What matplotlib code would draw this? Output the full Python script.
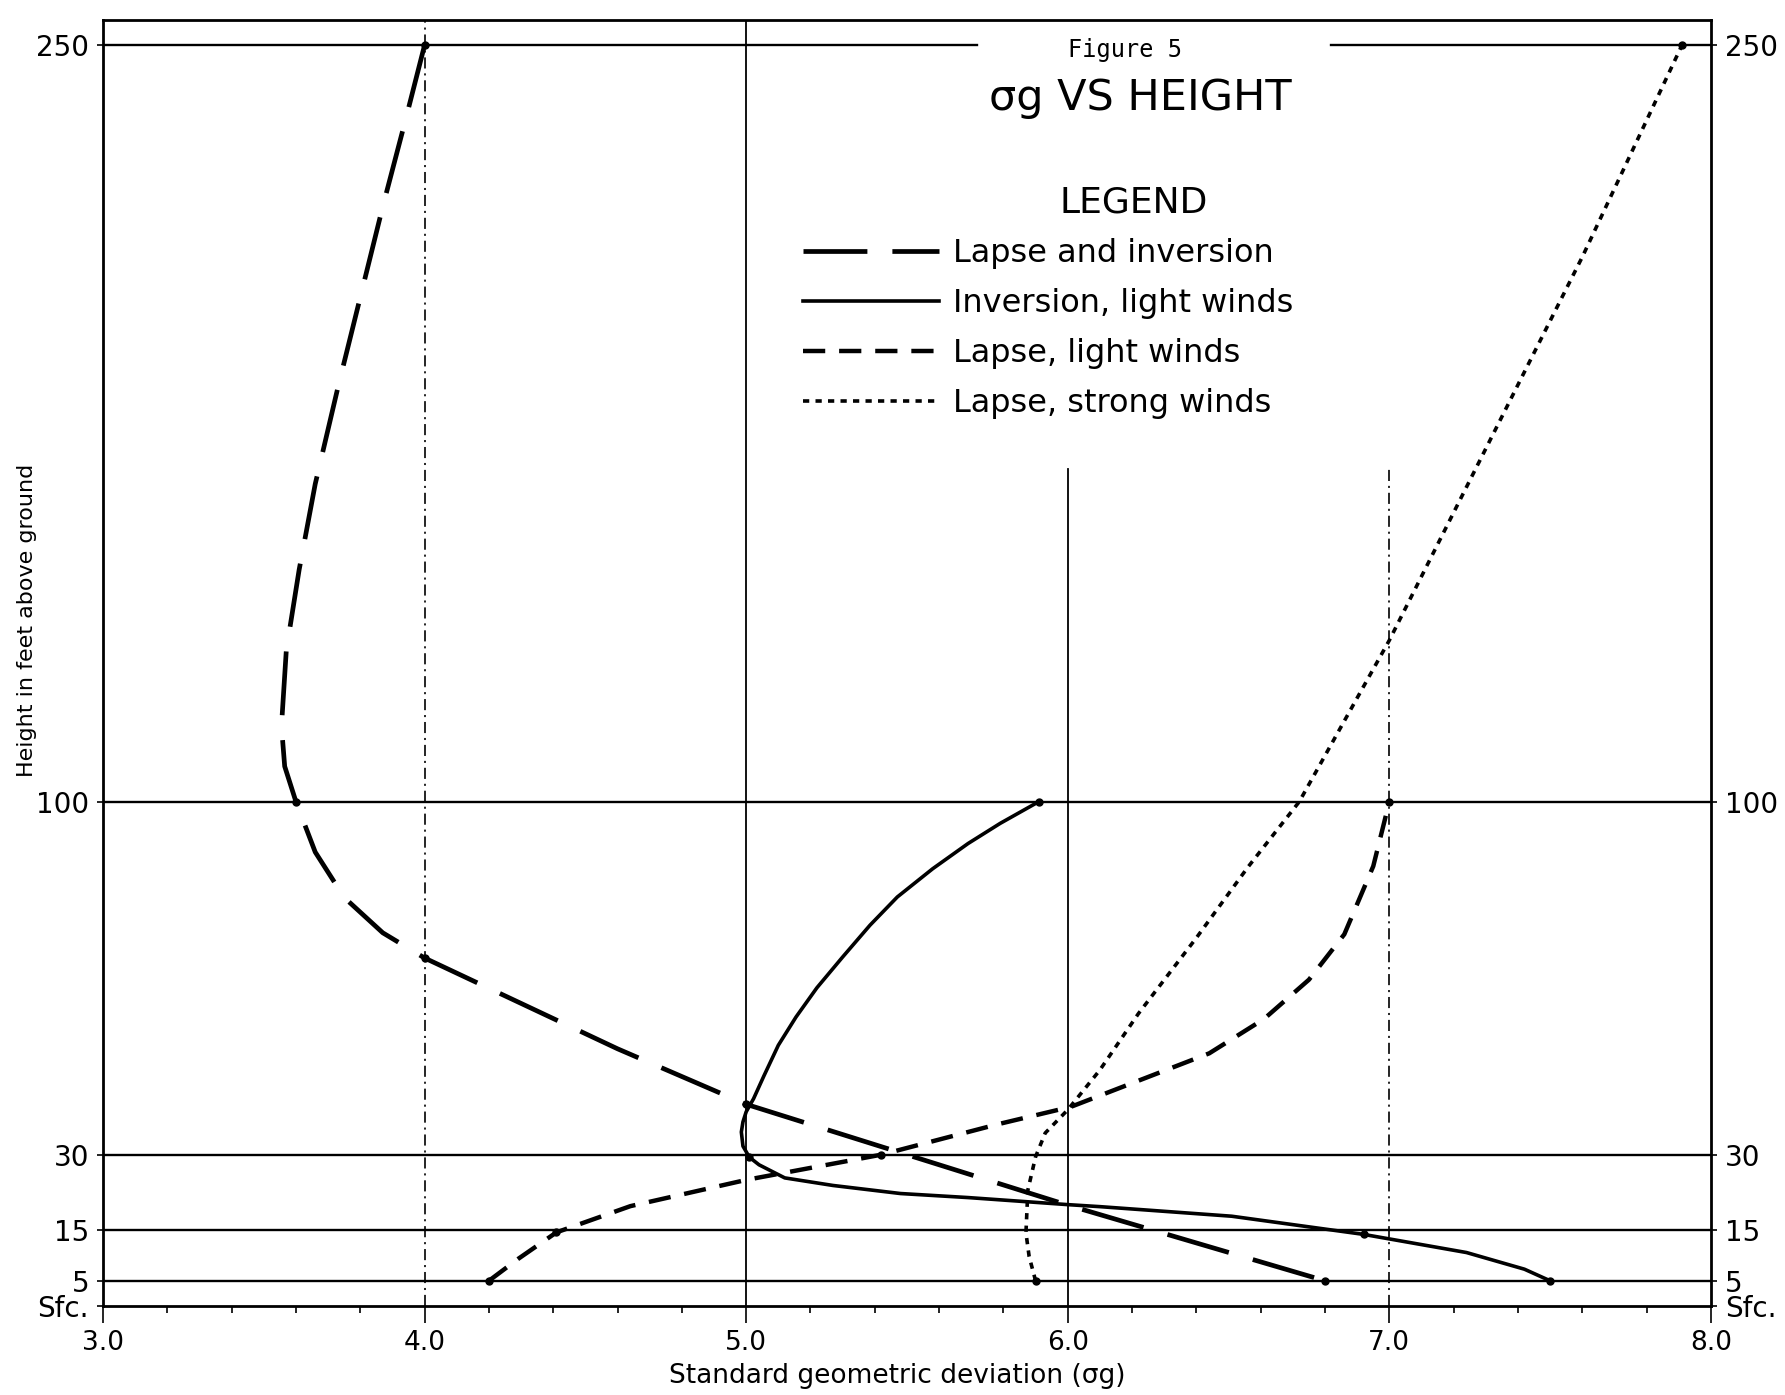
import matplotlib
matplotlib.use("Agg")
import matplotlib.pyplot as plt

plt.rcParams["font.family"] = ["DejaVu Sans"]
plt.rcParams["lines.scale_dashes"] = False

# heights (ft) and tick labels
height_ticks = [0, 5, 15, 30, 100, 250]
height_labels = ["Sfc.", "5", "15", "30", "100", "250"]
sigma_ticks = [3.0, 4.0, 5.0, 6.0, 7.0, 8.0]
sigma_labels = ["3.0", "4.0", "5.0", "6.0", "7.0", "8.0"]

# Lapse and inversion (long dashes)
lapse_inv_x = [4.00, 3.94, 3.87, 3.80, 3.73, 3.66, 3.61, 3.57, 3.555, 3.565, 3.60,
               3.66, 3.75, 3.87, 4.00, 4.30, 4.60, 5.00, 5.25, 5.50, 5.75, 6.00, 6.40, 6.80]
lapse_inv_y = [250, 235, 218, 200, 182, 163, 146, 130, 115, 107, 100,
               90, 81, 74, 69, 60, 51, 40, 35, 30, 25, 20, 12.5, 5]
lapse_inv_marks = [0, 10, 14, 17, 23]

# Inversion, light winds (solid)
inv_light_x = [5.91, 5.79, 5.69, 5.58, 5.47, 5.385, 5.30, 5.22, 5.155, 5.10, 5.055, 5.023,
               5.00, 4.99, 4.985, 4.99, 5.01, 5.04, 5.12, 5.27, 5.48, 5.69, 6.00, 6.10,
               6.51, 6.92, 7.24, 7.42, 7.50]
inv_light_y = [100, 95.7, 91.7, 86.7, 81.1, 75.5, 69.2, 63.1, 57.3, 51.7, 45.6, 41.1,
               38.5, 36.5, 34.5, 31.7, 29.5, 28, 25.4, 23.9, 22.3, 21.5, 20.1, 19.7,
               17.8, 14.2, 10.6, 7.3, 5]
inv_light_marks = [0, 16, 25, 28]

# Lapse, light winds (medium dashes)
lapse_light_x = [4.20, 4.29, 4.41, 4.64, 5.00, 5.42, 5.78, 6.01, 6.44, 6.61, 6.75,
                 6.86, 6.95, 7.00]
lapse_light_y = [5, 9.3, 14.6, 19.8, 25, 30, 36, 39.5, 50.1, 56.9, 64.7,
                 73.7, 87.2, 100]
lapse_light_marks = [0, 2, 5, 13]

# Lapse, strong winds (dotted)
lapse_strong_x = [5.90, 5.88, 5.87, 5.876, 5.90, 5.93, 6.00, 6.10, 6.22, 6.40, 6.56,
                  6.72, 7.00, 7.30, 7.60, 7.91]
lapse_strong_y = [5, 9.8, 14.5, 23, 29.6, 34.3, 38.9, 46.8, 58, 73, 87,
                  100, 132, 170, 208, 250]
lapse_strong_marks = [0, 15]

fig = plt.figure(figsize=(17.85, 13.95), dpi=100)
ax = fig.add_axes([0.0577, 0.0638, 0.9008, 0.9219])
ax.set_xlim(3.0, 8.0)
ax.set_ylim(0, 255)

# grid lines
for h in [5, 15, 30, 100]:
    ax.axhline(h, color="black", lw=1.7, zorder=1)
ax.plot([3.0, 5.718], [250, 250], color="black", lw=1.7, zorder=1)
ax.plot([6.82, 8.0], [250, 250], color="black", lw=1.7, zorder=1)
dashdot = (0, (8, 3.5, 1.5, 3.5))
ax.axvline(4.0, color="black", lw=1.2, ls=dashdot, zorder=1)
ax.axvline(5.0, color="black", lw=1.3, zorder=1)
ax.plot([6.0, 6.0], [0, 166], color="black", lw=1.3, zorder=1)
ax.plot([7.0, 7.0], [0, 166], color="black", lw=1.2, ls=dashdot, zorder=1)

# curves
ax.plot(lapse_inv_x, lapse_inv_y, color="black", lw=3.4, ls=(0, (46, 18)),
        marker="o", ms=5, markevery=lapse_inv_marks, label="Lapse and inversion", zorder=3)
ax.plot(inv_light_x, inv_light_y, color="black", lw=2.6, ls="-",
        marker="o", ms=5, markevery=inv_light_marks, label="Inversion, light winds", zorder=3)
ax.plot(lapse_light_x, lapse_light_y, color="black", lw=3.2, ls=(0, (16, 10)),
        marker="o", ms=5, markevery=lapse_light_marks, label="Lapse, light winds", zorder=3)
ax.plot(lapse_strong_x, lapse_strong_y, color="black", lw=2.6, ls=(0, (4.5, 4.5)),
        marker="o", ms=5, markevery=lapse_strong_marks, label="Lapse, strong winds", zorder=3)

# titles and legend
ax.text(6.178, 249, "Figure 5", family="DejaVu Sans Mono", fontsize=17,
        ha="center", va="center")
ax.text(6.225, 239.6, "σg VS HEIGHT", fontsize=31, ha="center", va="center")
ax.text(6.206, 218.8, "LEGEND", fontsize=26, ha="center", va="center")
leg = ax.legend(loc="upper left", bbox_to_anchor=(5.177, 211.8), bbox_transform=ax.transData,
                frameon=False, fontsize=23, handlelength=4.25, handletextpad=0.45,
                labelspacing=0.6, borderpad=0, borderaxespad=0)
for line in leg.get_lines():
    line.set_marker("")

# axes and ticks
for s in ax.spines.values():
    s.set_linewidth(2.0)
ax.set_xticks(sigma_ticks)
ax.set_xticklabels(sigma_labels)
ax.set_xticks([3.2 + 0.2 * i for i in range(24) if (i + 1) % 5 != 0], minor=True)
ax.tick_params(axis="x", which="major", direction="out", length=12, width=1.2,
               pad=5, labelsize=19)
ax.tick_params(axis="x", which="minor", direction="out", length=5, width=1.2)
ax.set_yticks(height_ticks)
ax.set_yticklabels(height_labels)
ax.tick_params(axis="y", which="major", direction="out", length=4, width=1.2,
               left=True, right=True, labelleft=True, labelright=True,
               pad=6, labelsize=20)

ax.set_xlabel("Standard geometric deviation (σg)", fontsize=19)
ax.xaxis.set_label_coords(0.494, -0.0445)
ax.set_ylabel("Height in feet above ground", fontsize=16)
ax.yaxis.set_label_coords(-0.041, 0.533)

fig.savefig("out.png", dpi=100)
